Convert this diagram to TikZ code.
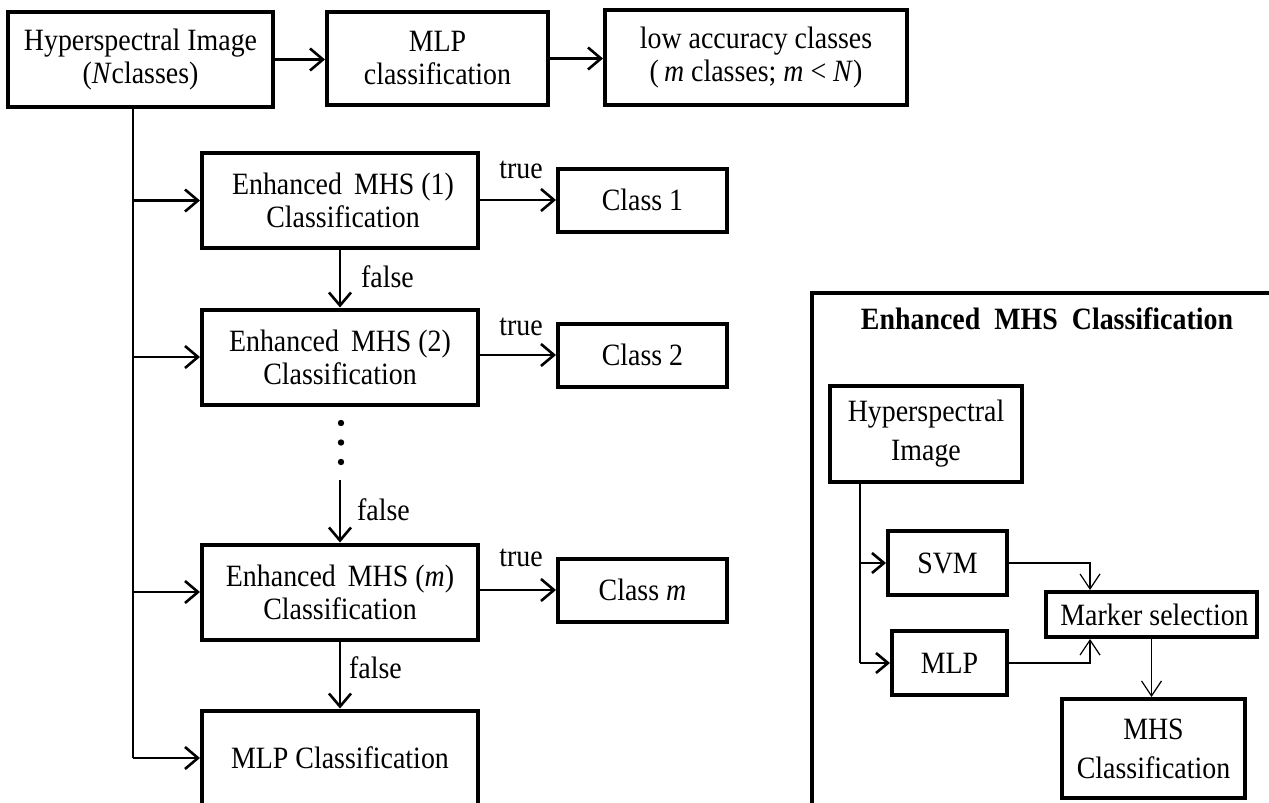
\documentclass[tikz,border=0pt]{standalone}
\usepackage{fontspec}
\setmainfont{Liberation Serif}[FakeStretch=0.9]
\usetikzlibrary{arrows.meta,calc}
\begin{document}
\begin{tikzpicture}[x=1pt,y=-1pt,
  font=\fontsize{31}{33}\selectfont,
  box/.style={draw,line width=4pt,inner sep=0pt,align=center},
  arr/.style={line width=2.6pt,-{Straight Barb[length=13pt,width=22pt,line width=2.6pt]}},
  ln/.style={line width=2.6pt},
  thin arr/.style={line width=1.2pt,-{Straight Barb[length=15pt,width=20pt,line width=1.2pt]}},
  lbl/.style={inner sep=0pt},
  tall/.style={font=\fontsize{31}{39}\selectfont}]
\useasboundingbox (0,0) rectangle (1269,803);
\clip (0,0) rectangle (1269,803);
\fill[white] (0,0) rectangle (1269,803);
% top row
\node[box,minimum width=265pt,minimum height=95pt] (A) at (140.5,59.5) {Hyperspectral Image\\(\textit{N}classes)};
\node[box,minimum width=221pt,minimum height=93pt] (B) at (437.5,58.5) {MLP\\classification};
\node[box,minimum width=302pt,minimum height=95pt] (C) at (756,57.5) {low accuracy classes\\(\,\textit{m} classes; \textit{m} < \textit{N})};
\draw[arr] (A.east) -- (A.east -| B.west);
\draw[arr] (B.east) -- (B.east -| C.west);
% left column
\node[box,minimum width=276pt,minimum height=95pt] (E1) at (340,200.5) {\hspace{6pt}Enhanced\hspace{12pt}MHS (1)\\\hspace{6pt}Classification};
\node[box,minimum width=169pt,minimum height=63pt] (K1) at (642.5,200) {Class 1};
\node[box,minimum width=276pt,minimum height=95pt] (E2) at (340,357) {Enhanced\hspace{12pt}MHS (2)\\Classification};
\node[box,minimum width=169pt,minimum height=63pt] (K2) at (642.5,355) {Class 2};
\node[box,minimum width=276pt,minimum height=95pt] (Em) at (340,592) {Enhanced\hspace{12pt}MHS (\textit{m})\\Classification};
\node[box,minimum width=169pt,minimum height=63pt] (Km) at (642.5,590) {Class \textit{m}};
\node[box,minimum width=276pt,minimum height=95pt] (ML) at (340,758) {MLP Classification};
% true arrows
\draw[arr] (E1.east |- K1.west) -- (K1.west);
\draw[arr] (E2.east |- K2.west) -- (K2.west);
\draw[arr] (Em.east |- Km.west) -- (Km.west);
\node[lbl] (t1) at (521,170) {true};
\node[lbl] (t2) at (521,327) {true};
\node[lbl] (t3) at (521,558) {true};
% false arrows
\draw[arr] (E1.south) -- (E2.north);
\node[lbl,anchor=west] (f1) at (361,277) {false};
\fill (341,423) circle (3.2pt) (341,442.5) circle (3.2pt) (341,462) circle (3.2pt);
\coordinate (dd) at (340,480);
\draw[arr] (dd) -- (Em.north);
\node[lbl,anchor=west] (f2) at (357,510) {false};
\draw[arr] (Em.south) -- (ML.north);
\node[lbl,anchor=west] (f3) at (349,668) {false};
% trunk
\coordinate (t0) at (133,107);
\draw[ln] (A.south -| t0) -- (t0 |- ML.west);
\draw[arr] (t0 |- E1.west) -- (E1.west);
\draw[arr] (t0 |- E2.west) -- (E2.west);
\draw[arr] (t0 |- Em.west) -- (Em.west);
\draw[arr] (t0 |- ML.west) -- (ML.west);
% right panel
\draw[line width=4pt] (1300,293) -- (812,293) -- (812,830);
\node[lbl,font=\fontsize{31}{33}\selectfont\bfseries] (T) at (1047,319) {Enhanced\hspace{14pt}MHS\hspace{14pt}Classification};
\node[box,tall,minimum width=192pt,minimum height=96pt] (H) at (926,434) {Hyperspectral\\Image};
\node[box,minimum width=119pt,minimum height=64pt] (S) at (947.5,563) {SVM};
\node[box,minimum width=115pt,minimum height=64pt] (M) at (949.5,663) {MLP};
\node[box,minimum width=211pt,minimum height=45pt] (MS) at (1151.5,614.5) {\hspace{6pt}Marker selection};
\node[box,tall,minimum width=183pt,minimum height=99pt] (MH) at (1153.5,748.5) {MHS\\Classification};
\coordinate (t1) at (860,482);
\coordinate (mx) at (1090,600);
\draw[ln] (H.south -| t1) -- (t1 |- M.west);
\draw[arr,-{Straight Barb[length=12pt,width=20pt,line width=2.6pt]}] (t1 |- S.west) -- (S.west);
\draw[arr,-{Straight Barb[length=12pt,width=20pt,line width=2.6pt]}] (t1 |- M.west) -- (M.west);
\draw[thin arr] (S.east) -| (mx |- MS.north);
\draw[thin arr] (M.east) -| (mx |- MS.south);
\draw[thin arr] (MS.south) -- (MS.south |- MH.north);
\end{tikzpicture}
\end{document}
